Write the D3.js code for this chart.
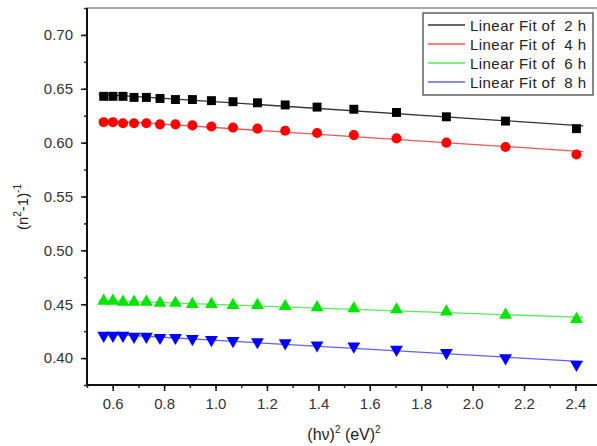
<!DOCTYPE html>
<html>
<head>
<meta charset="utf-8">
<script src="https://cdn.jsdelivr.net/npm/d3@7"></script>
<style>
  body { margin: 0; background: #fff; }
  svg { font-family: Arial, "Liberation Sans", sans-serif; }
</style>
</head>
<body>
<div id="chart"></div>
<script>
/* Data */
var xValues = [0.565, 0.601, 0.640, 0.683, 0.731, 0.784, 0.844, 0.910, 0.984, 1.068, 1.163, 1.271, 1.395, 1.538, 1.704, 1.898, 2.128, 2.404];
var y2h = [0.643, 0.643, 0.643, 0.642, 0.642, 0.641, 0.640, 0.640, 0.639, 0.638, 0.637, 0.635, 0.633, 0.631, 0.628, 0.624, 0.620, 0.613];
var y4h = [0.619, 0.619, 0.618, 0.618, 0.618, 0.617, 0.617, 0.616, 0.615, 0.614, 0.613, 0.611, 0.609, 0.607, 0.604, 0.600, 0.596, 0.589];
var y6h = [0.453, 0.453, 0.452, 0.452, 0.452, 0.451, 0.451, 0.450, 0.450, 0.449, 0.449, 0.448, 0.447, 0.446, 0.445, 0.443, 0.440, 0.436];
var y8h = [0.421, 0.421, 0.421, 0.420, 0.420, 0.419, 0.419, 0.418, 0.417, 0.416, 0.415, 0.414, 0.412, 0.411, 0.408, 0.405, 0.400, 0.394];
var seriesNames = ["2 h", "4 h", "6 h", "8 h"];
var xTicks = [0.6, 0.8, 1.0, 1.2, 1.4, 1.6, 1.8, 2.0, 2.2, 2.4];
var yTicks = [0.40, 0.45, 0.50, 0.55, 0.60, 0.65, 0.70];

var width = 597, height = 446;
var plotLeft = 87, plotRight = 596, plotTop = 8, plotBottom = 385;

var series = [
    { name: seriesNames[0], values: y2h, color: "#000000", fit: "#333333", symbol: d3.symbolSquare, size: 80, rot: 0 },
    { name: seriesNames[1], values: y4h, color: "#ff0000", fit: "#ff5050", symbol: d3.symbolCircle, size: 80, rot: 0 },
    { name: seriesNames[2], values: y6h, color: "#00e600", fit: "#55ee55", symbol: d3.symbolTriangle, size: 72, rot: 0 },
    { name: seriesNames[3], values: y8h, color: "#0000ff", fit: "#6060ff", symbol: d3.symbolTriangle, size: 72, rot: 180 }
];

var x = d3.scaleLinear().domain([0.5, 2.48]).range([plotLeft, plotRight]);
var y = d3.scaleLinear().domain([0.375, 0.725]).range([plotBottom, plotTop]);

var svg = d3.select("#chart").append("svg")
    .attr("width", width)
    .attr("height", height);

// Frame top line
svg.append("line")
    .attr("x1", plotLeft).attr("x2", width)
    .attr("y1", plotTop).attr("y2", plotTop)
    .attr("stroke", "#555").attr("stroke-width", 1);

// Minor ticks
var xMinor = d3.range(0.5, 2.49, 0.1).map(function (d) { return +d.toFixed(2); });
var yMinor = d3.range(0.375, 0.726, 0.025).map(function (d) { return +d.toFixed(3); });

svg.append("g")
    .attr("transform", "translate(0," + plotBottom + ")")
    .call(d3.axisBottom(x).tickValues(xMinor).tickSize(3).tickFormat(""))
    .call(function (g) { g.select(".domain").remove(); g.selectAll("line").attr("stroke", "#222").attr("stroke-width", 1.5); });

svg.append("g")
    .attr("transform", "translate(" + plotLeft + ",0)")
    .call(d3.axisLeft(y).tickValues(yMinor).tickSize(3).tickFormat(""))
    .call(function (g) { g.select(".domain").remove(); g.selectAll("line").attr("stroke", "#222").attr("stroke-width", 1.5); });

// Major axes
var xAxis = svg.append("g")
    .attr("transform", "translate(0," + plotBottom + ")")
    .call(d3.axisBottom(x).tickValues(xTicks).tickSize(6).tickSizeOuter(0).tickPadding(7).tickFormat(d3.format(".1f")));

var yAxis = svg.append("g")
    .attr("transform", "translate(" + plotLeft + ",0)")
    .call(d3.axisLeft(y).tickValues(yTicks).tickSize(6).tickSizeOuter(0).tickPadding(8).tickFormat(d3.format(".2f")));

[xAxis, yAxis].forEach(function (g) {
    g.select(".domain").attr("stroke", "#111").attr("stroke-width", 2);
    g.selectAll(".tick line").attr("stroke", "#111").attr("stroke-width", 1.5);
    g.selectAll(".tick text").attr("fill", "#333").style("font-size", "15px").style("font-family", "Arial, 'Liberation Sans', sans-serif");
});
xAxis.select(".domain").attr("d", "M" + plotLeft + ",0H" + width);
yAxis.select(".domain").attr("d", "M0," + plotBottom + "V" + plotTop);

// Linear fits and markers
var plot = svg.append("g");
var xExtent = [0.545, 2.43];

series.forEach(function (s) {
    var mx = d3.mean(xValues), my = d3.mean(s.values);
    var num = d3.sum(xValues, function (d, i) { return (d - mx) * (s.values[i] - my); });
    var den = d3.sum(xValues, function (d) { return (d - mx) * (d - mx); });
    var slope = num / den, icpt = my - slope * mx;

    plot.append("path")
        .datum(xExtent)
        .attr("d", d3.line().x(function (d) { return x(d); }).y(function (d) { return y(icpt + slope * d); }))
        .attr("fill", "none")
        .attr("stroke", s.fit)
        .attr("stroke-width", 1.3);

    plot.selectAll(null)
        .data(xValues)
        .enter().append("path")
        .attr("d", d3.symbol().type(s.symbol).size(s.size))
        .attr("transform", function (d, i) { return "translate(" + x(d) + "," + y(s.values[i]) + ") rotate(" + s.rot + ")"; })
        .attr("fill", s.color);
});

// Legend
var legend = svg.append("g").attr("transform", "translate(423,13)");
legend.append("rect")
    .attr("width", 170).attr("height", 82)
    .attr("fill", "#fff").attr("stroke", "#555").attr("stroke-width", 1.4);

series.forEach(function (s, i) {
    var row = legend.append("g").attr("transform", "translate(0," + (12 + i * 19) + ")");
    row.append("line")
        .attr("x1", 5).attr("x2", 42)
        .attr("stroke", s.fit).attr("stroke-width", 1.4);
    row.append("text")
        .attr("x", 47).attr("y", 5.5)
        .attr("fill", "#222")
        .attr("textLength", 116)
        .attr("lengthAdjust", "spacing")
        .style("font-size", "15px")
        .style("white-space", "pre")
        .text("Linear Fit of  " + s.name);
});

// Axis titles
svg.append("text")
    .attr("x", 344).attr("y", 440)
    .attr("text-anchor", "middle")
    .attr("fill", "#222")
    .style("font-size", "16px")
    .html("(hν)<tspan dy='-7' font-size='10'>2</tspan><tspan dy='7'> (eV)</tspan><tspan dy='-7' font-size='10'>2</tspan>");

svg.append("text")
    .attr("transform", "translate(28,207) rotate(-90)")
    .attr("text-anchor", "middle")
    .attr("fill", "#222")
    .style("font-size", "15px")
    .html("(n<tspan dy='-7' font-size='10'>2</tspan><tspan dy='7'>-1)</tspan><tspan dy='-7' font-size='10'>-1</tspan>");
</script>
</body>
</html>
